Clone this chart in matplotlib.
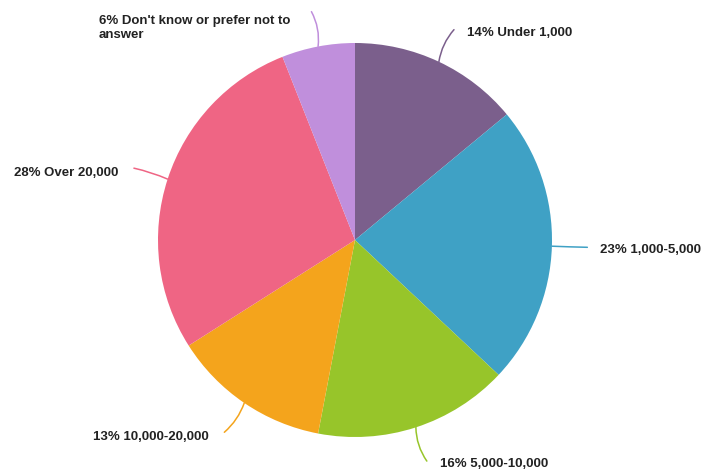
import numpy as np
import matplotlib.pyplot as plt

# datos del grafico
etiquetas = ['Under 1,000', '1,000-5,000', '5,000-10,000', '10,000-20,000',
             'Over 20,000', "Don't know or prefer not to\nanswer"]
porcentajes = [14, 23, 16, 13, 28, 6]
colores = ['#7B5F8C', '#3FA1C5', '#97C52A', '#F4A41C', '#EF6584', '#C08FDC']

fig = plt.figure(figsize=(7.03, 4.70), dpi=100)
ax = fig.add_axes([0, 0, 1, 1])

# pastel centrado en (0,0) con radio 1, empieza arriba y va en sentido horario
ax.pie(porcentajes, colors=colores, startangle=90, counterclock=False,
       radius=1, center=(0, 0), wedgeprops=dict(linewidth=0))

ax.set_xlim(-355 / 197, (703 - 355) / 197)
ax.set_ylim(-(470 - 240) / 197, 240 / 197)
ax.set_aspect('equal')
ax.set_axis_off()

px = 1 / 197  # un pixel en unidades del pastel
acum = np.cumsum(porcentajes)
for i, (lab, p, c) in enumerate(zip(etiquetas, porcentajes, colores)):
    medio = (acum[i] - p / 2) / 100 * 2 * np.pi  # angulo desde arriba, horario
    sx, sy = np.sin(medio), np.cos(medio)
    ini = (sx, sy)
    fin = (1.18 * sx, 1.18 * sy)
    # la punta de la linea gira hacia la horizontal (poco si ya es horizontal)
    rad = 0.16 * abs(sy) * (-1 if sx * sy > 0 else 1)
    ax.annotate('', xy=fin, xytext=ini,
                arrowprops=dict(arrowstyle='-', color=c, lw=1.1,
                                connectionstyle='arc3,rad=%.3f' % rad,
                                shrinkA=0, shrinkB=0))
    texto = '%d%% %s' % (p, lab)
    if sx >= 0:
        ax.text(fin[0] + 13 * px, fin[1] - 3 * px, texto, ha='left', va='center',
                fontsize=9.5, fontweight='bold', color='#222222',
                family='Liberation Sans')
    elif '\n' in lab:
        ax.text(fin[0] - 21 * px, fin[1] - 3 * px, texto, ha='right', va='top',
                multialignment='left', fontsize=9.5, fontweight='bold',
                color='#222222', family='Liberation Sans', linespacing=1.3)
    else:
        ax.text(fin[0] - 16 * px, fin[1] - 5 * px, texto, ha='right', va='center',
                fontsize=9.5, fontweight='bold', color='#222222',
                family='Liberation Sans')

fig.savefig('out.png', dpi=100)
